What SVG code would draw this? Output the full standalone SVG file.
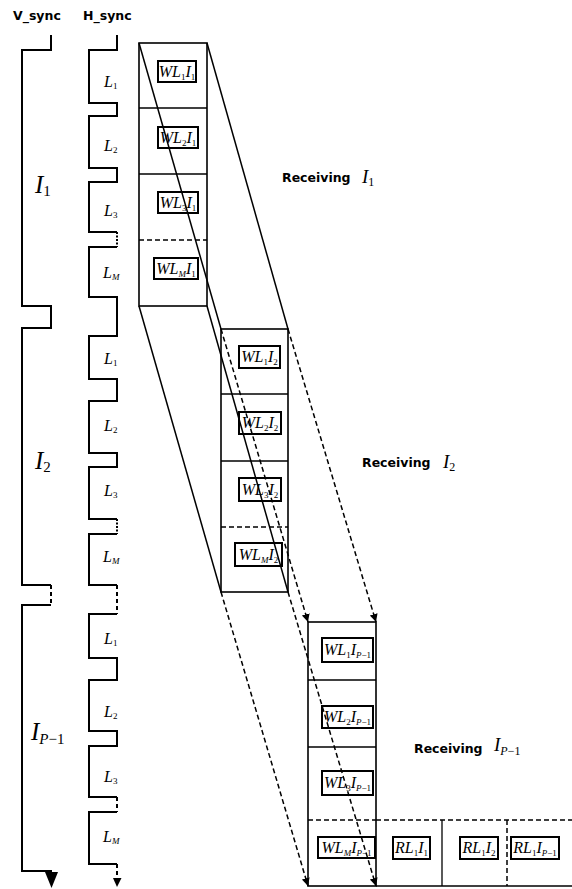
<svg xmlns="http://www.w3.org/2000/svg" width="572" height="889" viewBox="0 0 572 889">
<defs>
<style>
.hdr{font-family:"DejaVu Sans","Liberation Sans",sans-serif;font-weight:bold;font-size:12.5px;fill:#000}
.it{font-family:"Liberation Serif",serif;font-style:italic;fill:#000}
.lbl{font-size:16px}
.sub{font-size:9px;font-style:normal}
.subi{font-size:9px;font-style:italic}
.bsub{font-size:15px;font-style:normal}
.bsubi{font-size:15px;font-style:italic}
.rsub{font-size:12px;font-style:normal}
.rsubi{font-size:12px;font-style:italic}
.sig{fill:none;stroke:#000;stroke-width:2}
.dot{fill:none;stroke:#000;stroke-width:2;stroke-dasharray:2,1.5}
.dsh{fill:none;stroke:#000;stroke-width:2;stroke-dasharray:4,3}
.blk{fill:none;stroke:#000;stroke-width:1.6}
.div{stroke:#000;stroke-width:1.3}
.divd{stroke:#000;stroke-width:1.5;stroke-dasharray:5,3}
.box{fill:none;stroke:#000;stroke-width:2}
.con{stroke:#000;stroke-width:1.5;fill:none}
.cond{stroke:#000;stroke-width:1.5;fill:none;stroke-dasharray:5,3}
</style>
<marker id="ah" markerUnits="userSpaceOnUse" markerWidth="8" markerHeight="10" refX="8" refY="4" orient="auto" viewBox="0 0 8 8">
<path d="M0,0 L8,4 L0,8 z" fill="#000"/>
</marker>
</defs>
<rect width="572" height="889" fill="#fff"/>

<g id="vsync">
<text class="hdr" x="13" y="20">V_sync</text>
<path class="sig" d="M51,35 V50 H22 V306 H51 V328 H22 V585 H51"/>
<path class="dsh" d="M51,585 V605"/>
<path class="sig" d="M51,605 H22 V871 H51 V874"/>
<polygon points="45,872 58,872 51.5,888" fill="#000"/>
<text class="it" x="35" y="193" font-size="25">I<tspan class="bsub" dy="3">1</tspan></text>
<text class="it" x="35" y="469" font-size="25">I<tspan class="bsub" dy="3">2</tspan></text>
<text class="it" x="31" y="740" font-size="25">I<tspan class="bsubi" dy="4">P</tspan><tspan class="bsub">−1</tspan></text>
</g>

<g id="hsync">
<text class="hdr" x="83" y="20">H_sync</text>
<path class="sig" d="M117,35 V50 H89 V103 H117 V116 H89 V168 H117 V182 H89 V232 H117"/>
<path class="dot" d="M117,232 V247"/>
<path class="sig" d="M117,247 H89 V297 H117 V336 H89 V379 H117 V401 H89 V453 H117 V467 H89 V519 H117"/>
<path class="dot" d="M117,519 V534"/>
<path class="sig" d="M117,534 H89 V585 H117"/>
<path class="dsh" d="M117,585 V614"/>
<path class="sig" d="M117,614 H89 V658 H117 V680 H89 V731 H117 V746 H89 V797 H117"/>
<path class="dsh" d="M117,797 V812"/>
<path class="sig" d="M117,812 H89 V864 H117"/>
<path class="dsh" d="M117,864 V879"/>
<polygon points="113,878 121.5,878 117,887" fill="#000"/>
<g class="it" font-size="16">
<text x="104" y="87">L<tspan class="sub" dy="2">1</tspan></text>
<text x="104" y="151">L<tspan class="sub" dy="2">2</tspan></text>
<text x="104" y="216">L<tspan class="sub" dy="2">3</tspan></text>
<text x="103" y="278">L<tspan class="subi" dy="2">M</tspan></text>
<text x="104" y="364">L<tspan class="sub" dy="2">1</tspan></text>
<text x="104" y="431">L<tspan class="sub" dy="2">2</tspan></text>
<text x="104" y="496">L<tspan class="sub" dy="2">3</tspan></text>
<text x="103" y="562">L<tspan class="subi" dy="2">M</tspan></text>
<text x="104" y="644">L<tspan class="sub" dy="2">1</tspan></text>
<text x="104" y="717">L<tspan class="sub" dy="2">2</tspan></text>
<text x="104" y="782">L<tspan class="sub" dy="2">3</tspan></text>
<text x="103" y="842">L<tspan class="subi" dy="2">M</tspan></text>
</g>
</g>

<g id="frame1">
<rect class="blk" x="139" y="43" width="68" height="263"/>
<line class="div" x1="139" y1="108" x2="207" y2="108"/>
<line class="div" x1="139" y1="174" x2="207" y2="174"/>
<line class="divd" x1="139" y1="240" x2="207" y2="240"/>
<rect class="box" x="158" y="61" width="38" height="21"/>
<rect class="box" x="158" y="127" width="40" height="21"/>
<rect class="box" x="158" y="192" width="40" height="21"/>
<rect class="box" x="154" y="258" width="44" height="21"/>
<g class="it lbl" text-anchor="middle">
<text x="177" y="77">WL<tspan class="sub" dy="3">1</tspan><tspan dy="-3">I</tspan><tspan class="sub" dy="3">1</tspan></text>
<text x="178" y="143">WL<tspan class="sub" dy="3">2</tspan><tspan dy="-3">I</tspan><tspan class="sub" dy="3">1</tspan></text>
<text x="178" y="208">WL<tspan class="sub" dy="3">3</tspan><tspan dy="-3">I</tspan><tspan class="sub" dy="3">1</tspan></text>
<text x="176" y="274">WL<tspan class="subi" dy="3">M</tspan><tspan dy="-3">I</tspan><tspan class="sub" dy="3">1</tspan></text>
</g>
</g>

<g id="frame2">
<rect class="blk" x="221" y="329" width="67" height="263"/>
<line class="div" x1="221" y1="394" x2="288" y2="394"/>
<line class="div" x1="221" y1="461" x2="288" y2="461"/>
<line class="divd" x1="221" y1="527" x2="288" y2="527"/>
<rect class="box" x="239" y="346" width="41" height="22"/>
<rect class="box" x="239" y="412" width="42" height="22"/>
<rect class="box" x="239" y="478" width="42" height="23"/>
<rect class="box" x="235" y="543" width="47" height="23"/>
<g class="it lbl" text-anchor="middle">
<text x="259.5" y="362">WL<tspan class="sub" dy="3">1</tspan><tspan dy="-3">I</tspan><tspan class="sub" dy="3">2</tspan></text>
<text x="260" y="428">WL<tspan class="sub" dy="3">2</tspan><tspan dy="-3">I</tspan><tspan class="sub" dy="3">2</tspan></text>
<text x="260" y="495">WL<tspan class="sub" dy="3">3</tspan><tspan dy="-3">I</tspan><tspan class="sub" dy="3">2</tspan></text>
<text x="258.5" y="560">WL<tspan class="subi" dy="3">M</tspan><tspan dy="-3">I</tspan><tspan class="sub" dy="3">2</tspan></text>
</g>
</g>

<g id="frame3">
<rect class="blk" x="308" y="622" width="68" height="264"/>
<line class="div" x1="308" y1="680" x2="376" y2="680"/>
<line class="div" x1="308" y1="747" x2="376" y2="747"/>
<line class="divd" x1="308" y1="820" x2="376" y2="820"/>
<rect class="box" x="322" y="638" width="51" height="24"/>
<rect class="box" x="322" y="706" width="51" height="22"/>
<rect class="box" x="322" y="771" width="51" height="24"/>
<rect class="box" x="318" y="837" width="57" height="21"/>
<g class="it lbl" text-anchor="middle">
<text x="347.5" y="655">WL<tspan class="sub" dy="3">1</tspan><tspan dy="-3">I</tspan><tspan class="subi" dy="3">P</tspan><tspan class="sub">−1</tspan></text>
<text x="347.5" y="722">WL<tspan class="sub" dy="3">2</tspan><tspan dy="-3">I</tspan><tspan class="subi" dy="3">P</tspan><tspan class="sub">−1</tspan></text>
<text x="347.5" y="788">WL<tspan class="sub" dy="3">3</tspan><tspan dy="-3">I</tspan><tspan class="subi" dy="3">P</tspan><tspan class="sub">−1</tspan></text>
<text x="346.5" y="853">WL<tspan class="subi" dy="3">M</tspan><tspan dy="-3">I</tspan><tspan class="subi" dy="3">P</tspan><tspan class="sub">−1</tspan></text>
</g>
</g>

<g id="readrow">
<line class="divd" x1="376" y1="820" x2="572" y2="820"/>
<line class="blk" x1="376" y1="886" x2="572" y2="886"/>
<line class="div" x1="442" y1="820" x2="442" y2="886"/>
<line class="divd" x1="507" y1="820" x2="507" y2="886"/>
<rect class="box" x="393" y="837" width="37" height="22"/>
<rect class="box" x="460" y="837" width="38" height="22"/>
<rect class="box" x="511" y="837" width="48" height="22"/>
<g class="it lbl" text-anchor="middle">
<text x="411.5" y="853">RL<tspan class="sub" dy="3">1</tspan><tspan dy="-3">I</tspan><tspan class="sub" dy="3">1</tspan></text>
<text x="479" y="853">RL<tspan class="sub" dy="3">1</tspan><tspan dy="-3">I</tspan><tspan class="sub" dy="3">2</tspan></text>
<text x="535" y="853">RL<tspan class="sub" dy="3">1</tspan><tspan dy="-3">I</tspan><tspan class="subi" dy="3">P</tspan><tspan class="sub">−1</tspan></text>
</g>
</g>

<g id="labels">
<text class="hdr" x="282" y="182">Receiving</text>
<text class="it" x="362" y="183" font-size="19">I<tspan class="rsub" dy="3">1</tspan></text>
<text class="hdr" x="362" y="467">Receiving</text>
<text class="it" x="443" y="468" font-size="19">I<tspan class="rsub" dy="3">2</tspan></text>
<text class="hdr" x="414" y="753">Receiving</text>
<text class="it" x="494" y="751" font-size="19">I<tspan class="rsubi" dy="4">P</tspan><tspan class="rsub">−1</tspan></text>
</g>

<g id="connectors">
<line class="con" x1="139" y1="43" x2="221" y2="329"/>
<line class="con" x1="207" y1="43" x2="288" y2="329"/>
<line class="con" x1="139" y1="306" x2="221" y2="592"/>
<line class="con" x1="207" y1="306" x2="288" y2="592"/>
<line class="cond" x1="221" y1="329" x2="308" y2="622" marker-end="url(#ah)"/>
<line class="cond" x1="288" y1="329" x2="376" y2="622" marker-end="url(#ah)"/>
<line class="cond" x1="221" y1="592" x2="308" y2="886" marker-end="url(#ah)"/>
<line class="cond" x1="288" y1="592" x2="376" y2="886" marker-end="url(#ah)"/>
</g>
</svg>
